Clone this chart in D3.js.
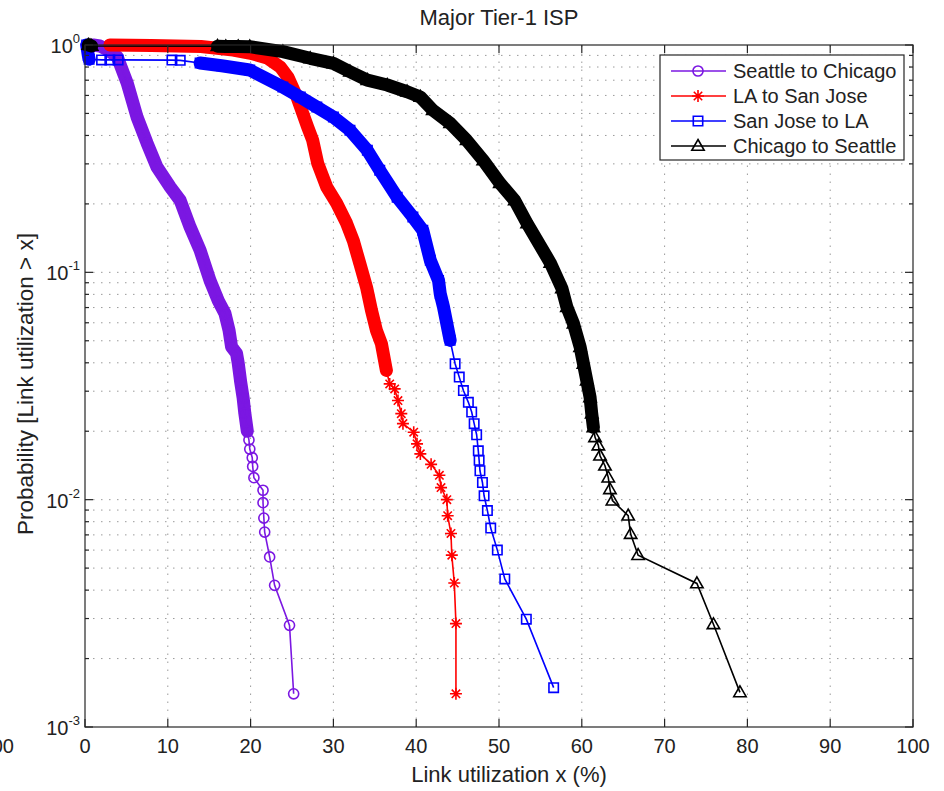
<!DOCTYPE html>
<html>
<head>
<meta charset="utf-8">
<script src="https://cdn.jsdelivr.net/npm/d3@7"></script>
<style>
  body { margin: 0; background: #fff; }
  svg text { font-family: "Liberation Sans", Arial, Helvetica, sans-serif; fill: #222; }
</style>
</head>
<body>
<div id="container"></div>
<script>
// link utilization (%) vs P[utilization > x]
const seattleChicago = [
  [1.0, 1.0], [1.8, 0.99], [2.8, 0.95], [3.9, 0.886], [5.1, 0.68], [6.3, 0.48], [7.5, 0.37],
  [8.7, 0.29], [10.3, 0.237], [11.5, 0.207], [12.7, 0.158], [13.9, 0.125], [15.1, 0.092],
  [16.1, 0.075], [16.9, 0.066], [17.4, 0.0555], [17.7, 0.047], [18.3, 0.044], [18.5, 0.040],
  [18.8, 0.033], [19.1, 0.028], [19.3, 0.024], [19.6, 0.020], [19.8, 0.0183], [19.9, 0.0167],
  [20.2, 0.0153], [20.25, 0.014], [20.4, 0.0125], [21.5, 0.011], [21.5, 0.0097], [21.6, 0.0083],
  [21.7, 0.0072], [22.3, 0.0056], [22.9, 0.0042], [24.7, 0.0028], [25.2, 0.0014]
];
const laSanJose = [
  [3.0, 1.0], [8.0, 0.995], [14.0, 0.985], [17.9, 0.95], [20.0, 0.92], [22.0, 0.877], [23.6, 0.80],
  [24.5, 0.723], [25.6, 0.59], [26.3, 0.50], [26.9, 0.435], [27.5, 0.381], [28.1, 0.302],
  [29.2, 0.237], [30.4, 0.201], [31.6, 0.164], [32.4, 0.138], [33.2, 0.109], [34.0, 0.086],
  [34.6, 0.068], [35.2, 0.0555], [35.8, 0.0485], [36.4, 0.037], [36.8, 0.0323], [37.4, 0.0307],
  [37.8, 0.0273], [38.2, 0.0239], [38.4, 0.0216], [39.7, 0.0198], [40.1, 0.0176], [40.5, 0.0159],
  [41.8, 0.0143], [42.8, 0.0128], [43.0, 0.0113], [43.7, 0.0100], [43.8, 0.0085], [44.2, 0.0071],
  [44.3, 0.0057], [44.6, 0.0043], [44.8, 0.00285], [44.8, 0.0014]
];
const sanJoseLA = [
  [0.2, 1.0], [0.3, 0.95], [0.4, 0.9], [0.5, 0.865], [2.0, 0.86], [3.0, 0.86], [4.0, 0.86],
  [10.5, 0.858], [11.5, 0.856], [13.9, 0.833], [16.5, 0.81], [19.9, 0.776], [23.9, 0.653],
  [26.0, 0.59], [28.0, 0.533], [30.0, 0.482], [32.0, 0.422], [34.1, 0.344], [35.6, 0.281],
  [37.7, 0.214], [39.6, 0.175], [40.8, 0.153], [41.7, 0.113], [42.7, 0.092], [42.9, 0.0806],
  [43.3, 0.0703], [44.1, 0.0502], [44.7, 0.0396], [45.2, 0.0346], [45.7, 0.0302], [46.3, 0.0268],
  [46.7, 0.0243], [47.0, 0.0216], [47.3, 0.0193], [47.5, 0.0164], [47.6, 0.0149], [47.7, 0.0134],
  [48.0, 0.0119], [48.2, 0.0104], [48.6, 0.00895], [49.0, 0.0075], [49.8, 0.006], [50.7, 0.00448],
  [53.3, 0.00298], [56.6, 0.00149]
];
const chicagoSeattle = [
  [0.4, 1.0], [0.6, 0.995], [0.8, 0.99], [16.0, 0.988], [17.0, 0.985], [18.5, 0.985], [19.9, 0.983],
  [23.9, 0.935], [27.2, 0.874], [30.0, 0.830], [32.0, 0.763], [34.1, 0.701], [36.5, 0.667],
  [38.9, 0.623], [40.5, 0.591], [42.0, 0.517], [44.1, 0.453], [46.1, 0.381], [48.1, 0.311],
  [50.1, 0.247], [51.9, 0.207], [53.4, 0.164], [56.2, 0.110], [57.6, 0.085], [58.2, 0.0703],
  [59.0, 0.0594], [59.8, 0.0469], [60.2, 0.0396], [60.6, 0.0334], [61.0, 0.0282], [61.2, 0.0239],
  [61.4, 0.0208], [61.6, 0.0188], [62.0, 0.0173], [62.2, 0.0156], [62.8, 0.0141], [63.2, 0.0125],
  [63.4, 0.0111], [63.7, 0.0099], [65.6, 0.0085], [65.9, 0.00706], [66.8, 0.0057], [73.9, 0.00428],
  [75.9, 0.00283], [79.1, 0.00142]
];

const seriesNames = ["Seattle to Chicago", "LA to San Jose", "San Jose to LA", "Chicago to Seattle"];
const xTicks = [0, 10, 20, 30, 40, 50, 60, 70, 80, 90, 100];
const yDecades = [-3, -2, -1, 0];

// where the samples are so dense that the markers merge into a band (x ranges)
const series = [
  { name: seriesNames[0], data: seattleChicago, color: "#7b17e2", marker: "circle", bands: [[0, 19.7]] },
  { name: seriesNames[1], data: laSanJose, color: "#ff0000", marker: "star", bands: [[2.9, 36.5]] },
  { name: seriesNames[2], data: sanJoseLA, color: "#0000ff", marker: "square", bands: [[0, 0.6], [13, 44.5]] },
  { name: seriesNames[3], data: chicagoSeattle, color: "#000000", marker: "triangle", bands: [[0, 1], [16, 61.5]] }
];

const width = 944, height = 791;
const plot = { left: 85, right: 913, top: 45, bottom: 727 };

const svg = d3.select("#container").append("svg")
  .attr("width", width)
  .attr("height", height);

const x = d3.scaleLinear([0, 100], [plot.left, plot.right]);
const y = d3.scaleLog([1e-3, 1], [plot.bottom, plot.top]);

// grid
const grid = svg.append("g")
  .attr("stroke", "#9a9a9a")
  .attr("stroke-width", 1)
  .attr("stroke-dasharray", "1.5,6.5");
xTicks.slice(1, -1).forEach(t => {
  grid.append("line")
    .attr("x1", x(t)).attr("x2", x(t))
    .attr("y1", plot.bottom).attr("y2", plot.top);
});
const yGridVals = [];
yDecades.slice(0, -1).forEach(d => {
  for (let m = 1; m <= 9; m++) yGridVals.push(m * Math.pow(10, d));
});
yGridVals.slice(1).forEach(v => {
  grid.append("line")
    .attr("x1", plot.left).attr("x2", plot.right)
    .attr("y1", y(v)).attr("y2", y(v));
});

// markers
const markerPath = (type) => {
  switch (type) {
    case "circle": return d3.symbol(d3.symbolCircle, 80)();
    case "square": return "M-4.7,-4.7H4.7V4.7H-4.7Z";
    case "triangle": return "M0,-6.5L6.2,4.3H-6.2Z";
    case "star": return "M-6,0H6M0,-6V6M-4.2,-4.2L4.2,4.2M-4.2,4.2L4.2,-4.2";
  }
};

const line = d3.line().x(d => x(d[0])).y(d => y(d[1]));

const curves = svg.append("g")
  .attr("clip-path", "url(#clip)");
svg.append("clipPath").attr("id", "clip")
  .append("rect")
  .attr("x", plot.left - 8).attr("y", plot.top - 8)
  .attr("width", plot.right - plot.left + 16)
  .attr("height", plot.bottom - plot.top + 16);

series.forEach(s => {
  const g = curves.append("g");
  s.bands.forEach(([a, b]) => {
    const pts = s.data.filter(d => d[0] >= a && d[0] <= b);
    g.append("path")
      .attr("d", line(pts))
      .attr("fill", "none")
      .attr("stroke", s.color)
      .attr("stroke-width", 13)
      .attr("stroke-linejoin", "round")
      .attr("stroke-linecap", "round");
  });
  g.append("path")
    .attr("d", line(s.data))
    .attr("fill", "none")
    .attr("stroke", s.color)
    .attr("stroke-width", 1.6);
  g.selectAll(".mk")
    .data(s.data)
    .join("path")
    .attr("class", "mk")
    .attr("transform", d => `translate(${x(d[0])},${y(d[1])})`)
    .attr("d", markerPath(s.marker))
    .attr("fill", "none")
    .attr("stroke", s.color)
    .attr("stroke-width", 1.6);
});

// axes box and ticks
const axes = svg.append("g").attr("stroke", "#262626").attr("stroke-width", 1.2);
axes.append("rect")
  .attr("x", plot.left).attr("y", plot.top)
  .attr("width", plot.right - plot.left)
  .attr("height", plot.bottom - plot.top)
  .attr("fill", "none");
xTicks.forEach(t => {
  axes.append("line").attr("x1", x(t)).attr("x2", x(t)).attr("y1", plot.bottom).attr("y2", plot.bottom - 8);
  axes.append("line").attr("x1", x(t)).attr("x2", x(t)).attr("y1", plot.top).attr("y2", plot.top + 8);
});
yGridVals.concat([1]).forEach(v => {
  const major = Math.abs(Math.log10(v) - Math.round(Math.log10(v))) < 1e-9;
  const len = major ? 8 : 4;
  axes.append("line").attr("x1", plot.left).attr("x2", plot.left + len).attr("y1", y(v)).attr("y2", y(v));
  axes.append("line").attr("x1", plot.right).attr("x2", plot.right - len).attr("y1", y(v)).attr("y2", y(v));
});

// tick labels
svg.append("g").selectAll("text")
  .data(xTicks)
  .join("text")
  .attr("x", d => x(d))
  .attr("y", plot.bottom + 26)
  .attr("text-anchor", "middle")
  .attr("font-size", 20)
  .text(d => d);
// stray label from the neighbouring panel, clipped by the page edge
svg.append("text")
  .attr("x", 14).attr("y", plot.bottom + 26)
  .attr("text-anchor", "end")
  .attr("font-size", 20)
  .text("100");

yDecades.forEach(d => {
  const t = svg.append("text")
    .attr("x", plot.left - 5)
    .attr("y", y(Math.pow(10, d)) + 8)
    .attr("text-anchor", "end")
    .attr("font-size", 20);
  t.append("tspan").text("10");
  t.append("tspan").attr("dy", -10).attr("font-size", 13).text(d);
});

// title and axis labels
svg.append("text")
  .attr("x", (plot.left + plot.right) / 2).attr("y", 25)
  .attr("text-anchor", "middle")
  .attr("font-size", 22)
  .text("Major Tier-1 ISP");
svg.append("text")
  .attr("x", (plot.left + plot.right) / 2 + 10).attr("y", 782)
  .attr("text-anchor", "middle")
  .attr("font-size", 22)
  .text("Link utilization x (%)");
svg.append("text")
  .attr("transform", `translate(33,${(plot.top + plot.bottom) / 2 - 2}) rotate(-90)`)
  .attr("text-anchor", "middle")
  .attr("font-size", 22.5)
  .text("Probability [Link utilization > x]");

// legend
const legend = svg.append("g").attr("transform", "translate(660,55)");
legend.append("rect")
  .attr("width", 244).attr("height", 105)
  .attr("fill", "#fff")
  .attr("stroke", "#262626").attr("stroke-width", 1.2);
series.forEach((s, i) => {
  const row = legend.append("g").attr("transform", `translate(0,${16 + i * 25})`);
  row.append("line")
    .attr("x1", 11).attr("x2", 66)
    .attr("stroke", s.color).attr("stroke-width", 1.6);
  row.append("path")
    .attr("transform", "translate(38,0)")
    .attr("d", markerPath(s.marker))
    .attr("fill", "none")
    .attr("stroke", s.color).attr("stroke-width", 1.6);
  row.append("text")
    .attr("x", 73).attr("y", 7)
    .attr("font-size", 20)
    .text(s.name);
});
</script>
</body>
</html>
